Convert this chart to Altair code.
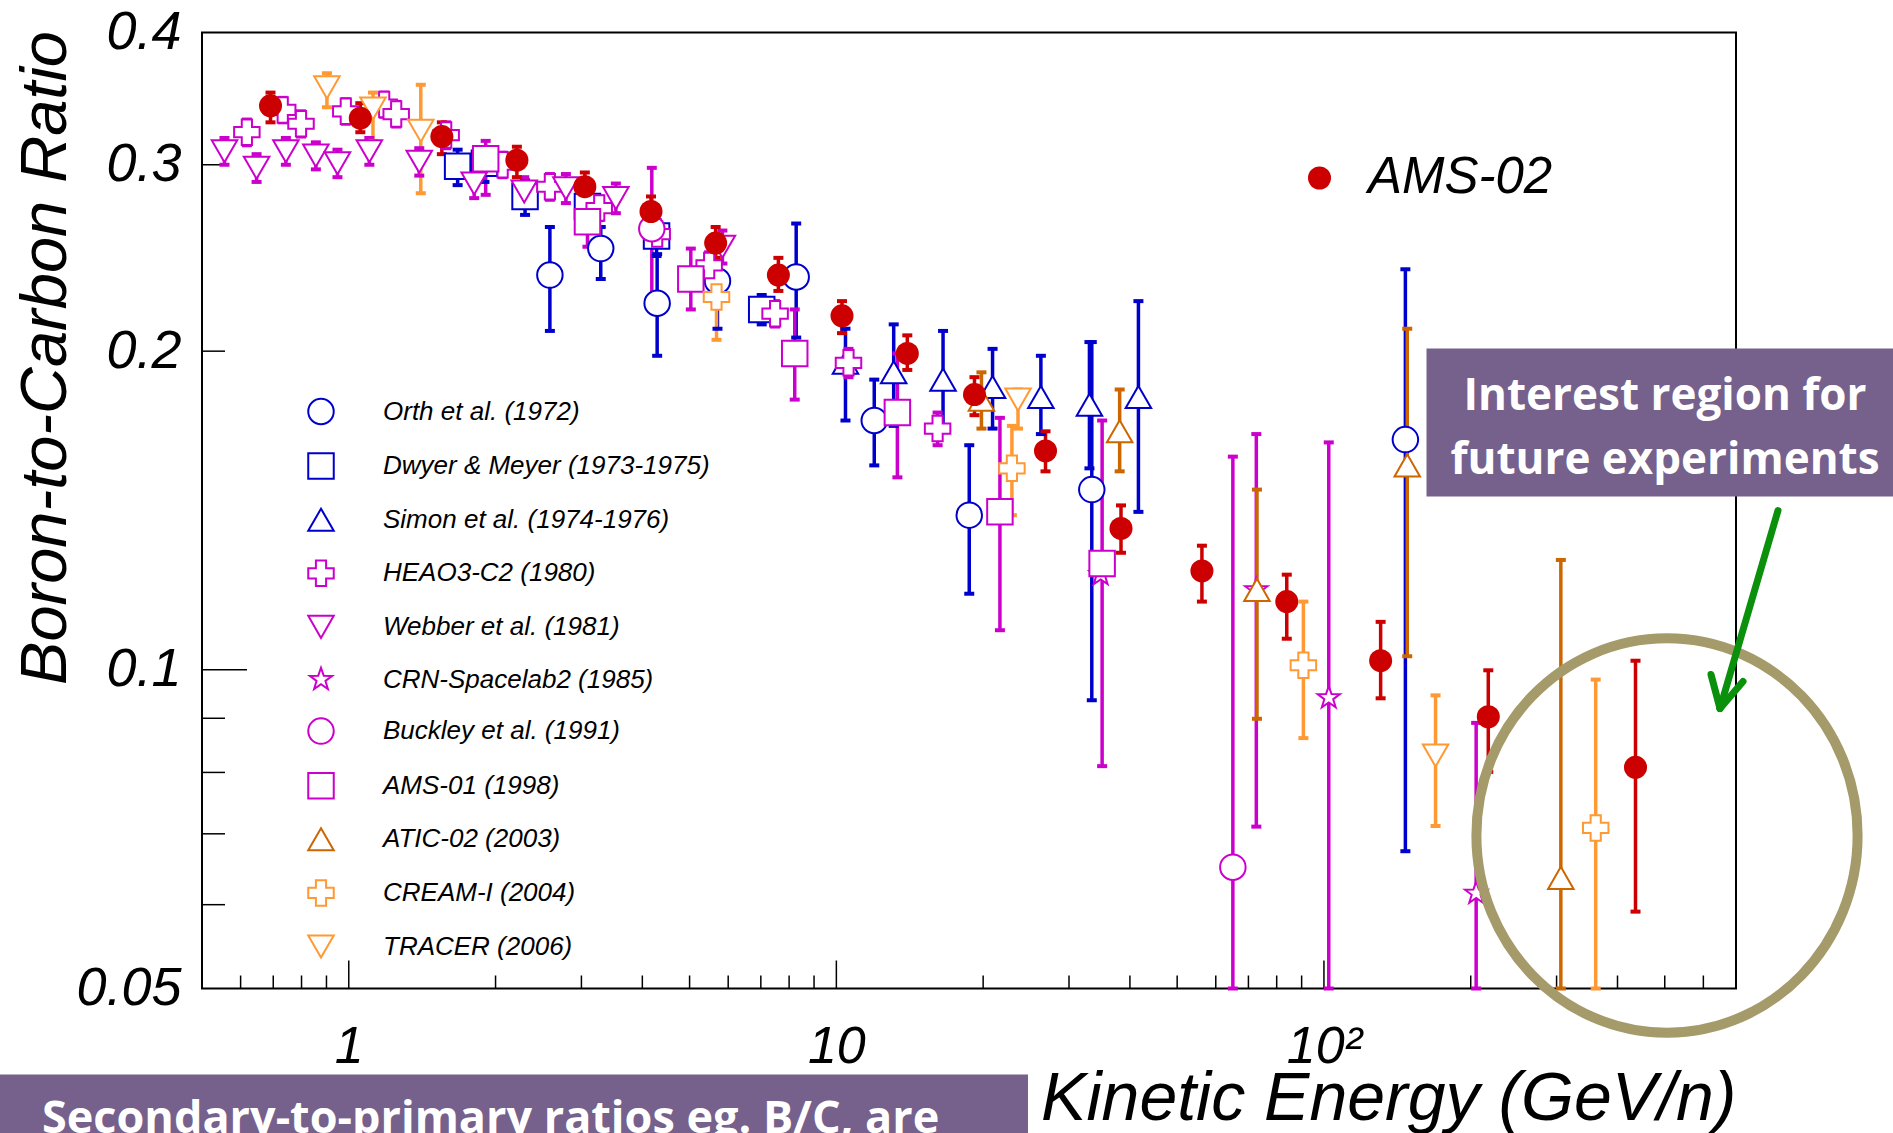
import altair as alt
import pandas as pd

W, H = 1534, 956
FONT = "Liberation Sans"

series_names = ["Orth et al. (1972)", "Dwyer & Meyer (1973-1975)", "Simon et al. (1974-1976)",
                "HEAO3-C2 (1980)", "Webber et al. (1981)", "CRN-Spacelab2 (1985)",
                "Buckley et al. (1991)", "AMS-01 (1998)", "ATIC-02 (2003)", "CREAM-I (2004)",
                "TRACER (2006)"]
series_colors = ["#0000cc", "#0000cc", "#0000cc", "#cc00cc", "#cc00cc", "#cc00cc",
                 "#cc00cc", "#cc00cc", "#cc6600", "#ff9933", "#ff9933"]
STAR = ("M0,-0.92 L0.216,-0.298 L0.875,-0.284 L0.35,0.114 L0.541,0.744 L0,0.368 "
        "L-0.541,0.744 L-0.35,0.114 L-0.875,-0.284 L-0.216,-0.298 Z")
series_shapes = ["circle", "square", "triangle-up", "cross", "triangle-down", STAR,
                 "circle", "square", "triangle-up", "cross", "triangle-down"]

# ---- data (kinetic energy GeV/n, B/C ratio, error-bar low, error-bar high) ----
orth_E = [2.585, 3.287, 4.290, 5.704, 8.272, 11.96, 18.73, 33.41, 146.9]
orth_R = [0.236, 0.250, 0.222, 0.233, 0.235, 0.172, 0.140, 0.148, 0.165]
orth_lo = [0.209, 0.234, 0.198, 0.210, 0.206, 0.156, 0.118, 0.0936, 0.0674]
orth_hi = [0.262, 0.262, 0.247, 0.244, 0.264, 0.188, 0.163, 0.204, 0.239]

dwyer_E = [1.672, 1.898, 2.299, 3.087, 4.278, 7.029]
dwyer_R = [0.299, 0.301, 0.280, 0.274, 0.257, 0.219]
dwyer_lo = [0.287, 0.289, 0.269, 0.267, 0.246, 0.212]
dwyer_hi = [0.310, 0.310, 0.290, 0.282, 0.266, 0.226]

simon_E = [10.44, 13.11, 16.55, 20.91, 26.27, 33.04, 41.64]
simon_R = [0.195, 0.191, 0.188, 0.185, 0.181, 0.178, 0.181]
simon_lo = [0.172, 0.170, 0.169, 0.169, 0.167, 0.155, 0.141]
simon_hi = [0.210, 0.212, 0.209, 0.201, 0.198, 0.204, 0.223]

heao_E = [0.618, 0.732, 0.798, 0.986, 1.182, 1.251, 1.584, 2.068, 2.585, 3.263, 4.290, 5.484, 7.488, 10.59, 16.13]
heao_R = [0.322, 0.338, 0.328, 0.337, 0.342, 0.335, 0.320, 0.300, 0.286, 0.273, 0.258, 0.241, 0.217, 0.195, 0.169]
heao_lo = [0.313, 0.329, 0.319, 0.328, 0.333, 0.326, 0.311, 0.292, 0.278, 0.266, 0.251, 0.234, 0.211, 0.189, 0.163]
heao_hi = [0.331, 0.347, 0.337, 0.346, 0.351, 0.344, 0.329, 0.308, 0.294, 0.280, 0.265, 0.248, 0.223, 0.201, 0.175]

webber_E = [0.556, 0.647, 0.743, 0.856, 0.948, 1.102, 1.395, 1.808, 2.290, 2.788, 3.530, 5.838]
webber_R = [0.309, 0.298, 0.309, 0.306, 0.301, 0.309, 0.302, 0.288, 0.283, 0.285, 0.279, 0.251]
webber_lo = [0.300, 0.289, 0.300, 0.297, 0.292, 0.300, 0.293, 0.279, 0.274, 0.276, 0.270, 0.242]
webber_hi = [0.318, 0.307, 0.318, 0.315, 0.310, 0.318, 0.311, 0.297, 0.292, 0.294, 0.288, 0.260]

crn_E = [34.84, 72.66, 102.3, 205.2]
crn_R = [0.123, 0.119, 0.0941, 0.0615]
crn_lo = [0.123, 0.0711, 0.05, 0.05]
crn_hi = [0.123, 0.167, 0.164, 0.0891]

buckley_E = [4.183, 65.04]
buckley_R = [0.261, 0.0651]
buckley_lo = [0.225, 0.05]
buckley_hi = [0.298, 0.159]

ams01_E = [1.909, 3.087, 5.029, 8.215, 13.34, 21.65, 35.08]
ams01_R = [0.304, 0.265, 0.234, 0.199, 0.175, 0.141, 0.126]
ams01_lo = [0.281, 0.251, 0.219, 0.180, 0.152, 0.109, 0.0811]
ams01_hi = [0.316, 0.277, 0.250, 0.219, 0.199, 0.173, 0.172]

atic_E = [19.84, 38.11, 72.88, 148.2, 306.1]
atic_R = [0.180, 0.168, 0.119, 0.156, 0.0636]
atic_lo = [0.169, 0.154, 0.0899, 0.103, 0.05]
atic_hi = [0.191, 0.184, 0.148, 0.210, 0.127]

cream_E = [5.678, 22.91, 90.75, 360.9]
cream_R = [0.225, 0.155, 0.101, 0.0709]
cream_lo = [0.205, 0.140, 0.0862, 0.05]
cream_hi = [0.245, 0.170, 0.116, 0.0979]

tracer_E = [0.902, 1.121, 1.405, 23.58, 169.4]
tracer_R = [0.355, 0.339, 0.323, 0.180, 0.0830]
tracer_lo = [0.340, 0.316, 0.282, 0.169, 0.0712]
tracer_hi = [0.366, 0.351, 0.357, 0.184, 0.0946]

ams02_E = [0.691, 1.056, 1.552, 2.212, 3.049, 4.167, 5.655, 7.605, 10.27, 13.98, 19.20, 26.85,
           38.35, 56.2, 83.9, 130.7, 217.3, 435.5]
ams02_R = [0.341, 0.332, 0.319, 0.303, 0.286, 0.271, 0.253, 0.236, 0.216, 0.199, 0.182, 0.161,
           0.136, 0.124, 0.116, 0.102, 0.0903, 0.0809]
ams02_lo = [0.329, 0.322, 0.307, 0.292, 0.276, 0.262, 0.245, 0.228, 0.208, 0.192, 0.174, 0.154,
            0.129, 0.116, 0.107, 0.094, 0.0801, 0.0591]
ams02_hi = [0.351, 0.343, 0.329, 0.312, 0.295, 0.280, 0.262, 0.245, 0.223, 0.207, 0.189, 0.168,
            0.143, 0.131, 0.123, 0.111, 0.0999, 0.102]

x_minor_ticks = [0.6, 0.7, 0.8, 0.9, 2, 3, 4, 5, 6, 7, 8, 9, 20, 30, 40, 50, 60, 70, 80, 90,
                 200, 300, 400, 500, 600]
x_major_ticks = [1, 10, 100]
y_minor_ticks = [0.06, 0.07, 0.08, 0.09, 0.2, 0.3]
y_major_ticks = [0.1]
x_label_values = [1, 10, 100]
y_label_values = [0.05, 0.1, 0.2, 0.3, 0.4]

series_data = [
    (series_names[0], orth_E, orth_R, orth_lo, orth_hi),
    (series_names[1], dwyer_E, dwyer_R, dwyer_lo, dwyer_hi),
    (series_names[2], simon_E, simon_R, simon_lo, simon_hi),
    (series_names[3], heao_E, heao_R, heao_lo, heao_hi),
    (series_names[4], webber_E, webber_R, webber_lo, webber_hi),
    (series_names[5], crn_E, crn_R, crn_lo, crn_hi),
    (series_names[6], buckley_E, buckley_R, buckley_lo, buckley_hi),
    (series_names[7], ams01_E, ams01_R, ams01_lo, ams01_hi),
    (series_names[8], atic_E, atic_R, atic_lo, atic_hi),
    (series_names[9], cream_E, cream_R, cream_lo, cream_hi),
    (series_names[10], tracer_E, tracer_R, tracer_lo, tracer_hi),
]
rows = []
for name, E, R, lo, hi in series_data:
    for e, r, l, h in zip(E, R, lo, hi):
        rows.append({"series": name, "E": e, "R": r, "lo": l, "hi": h})
df = pd.DataFrame(rows)
ams = pd.DataFrame({"exp": "AMS-02", "series": "AMS-02", "E": ams02_E, "R": ams02_R,
                    "lo": ams02_lo, "hi": ams02_hi})
err_df = pd.concat([df, ams[["series", "E", "R", "lo", "hi"]]], ignore_index=True)

# ---- scales & axes ----
xscale = alt.Scale(type="log", domain=[0.5, 700], nice=False)
yscale = alt.Scale(type="log", domain=[0.05, 0.4], nice=False)

x_axis = alt.Axis(values=x_label_values, ticks=False, domain=False, grid=False,
                  labelExpr="datum.value >= 100 ? '10\u00b2' : format(datum.value, 'd')",
                  labelFont=FONT, labelFontSize=52, labelFontStyle="italic", labelColor="black",
                  labelPadding=33, labelFlush=False, labelOverlap=False,
                  title="Kinetic Energy (GeV/n)", titleFont=FONT, titleFontSize=68,
                  titleFontStyle="italic", titleFontWeight="normal", titleColor="black",
                  titleX=W, titleY=131, titleAlign="right", titleBaseline="alphabetic")
y_axis = alt.Axis(values=y_label_values, ticks=False, domain=False, grid=False, format="~g",
                  labelFont=FONT, labelFontSize=54, labelFontStyle="italic", labelColor="black",
                  labelPadding=21, labelFlush=False, labelOverlap=False,
                  title="Boron-to-Carbon Ratio", titleFont=FONT, titleFontSize=65,
                  titleFontStyle="italic", titleFontWeight="normal", titleColor="black",
                  titleX=-137, titleY=-2, titleAlign="right", titleBaseline="alphabetic",
                  titleAngle=270)


def X(field):
    return alt.X(field, type="quantitative", scale=xscale, axis=x_axis)


def Y(field):
    return alt.Y(field, type="quantitative", scale=yscale, axis=y_axis)


color_scale = alt.Scale(domain=series_names + ["AMS-02"], range=series_colors + ["#cc0000"])

# ---- inward ticks ----
xt_minor = alt.Chart(pd.DataFrame({"v": x_minor_ticks})).mark_rule(color="black", strokeWidth=1.5).encode(
    x=X("v"), y=alt.value(H), y2=alt.value(H - 13))
xt_major = alt.Chart(pd.DataFrame({"v": x_major_ticks})).mark_rule(color="black", strokeWidth=1.5).encode(
    x=X("v"), y=alt.value(H), y2=alt.value(H - 28))
yt_minor = alt.Chart(pd.DataFrame({"v": y_minor_ticks})).mark_rule(color="black", strokeWidth=1.5).encode(
    y=Y("v"), x=alt.value(0), x2=alt.value(23))
yt_major = alt.Chart(pd.DataFrame({"v": y_major_ticks})).mark_rule(color="black", strokeWidth=1.5).encode(
    y=Y("v"), x=alt.value(0), x2=alt.value(45))

# ---- error bars ----
rules = alt.Chart(err_df).mark_rule(strokeWidth=3.5).encode(
    x=X("E"), y=Y("lo"), y2="hi:Q",
    color=alt.Color("series:N", scale=color_scale, legend=None))
caps = alt.Chart(err_df).transform_fold(["lo", "hi"], as_=["end", "val"]).mark_tick(
    orient="horizontal", size=10, thickness=4, opacity=1).encode(
    x=X("E"), y=Y("val"),
    color=alt.Color("series:N", scale=color_scale, legend=None))

# ---- markers ----
leg = alt.Legend(title=None, orient="none", legendX=105, legendY=365, symbolSize=650,
                 symbolStrokeWidth=2, symbolFillColor="white", labelFont=FONT, labelFontSize=26,
                 labelFontStyle="italic", labelColor="black", labelOffset=48, rowPadding=20.6,
                 padding=0, labelLimit=0)
markers = alt.Chart(df).mark_point(filled=False, fill="white", strokeWidth=2, size=650, opacity=1).encode(
    x=X("E"), y=Y("R"),
    stroke=alt.Stroke("series:N", scale=alt.Scale(domain=series_names, range=series_colors), legend=leg),
    shape=alt.Shape("series:N", scale=alt.Scale(domain=series_names, range=series_shapes), legend=leg))

ams_leg = alt.Legend(title=None, orient="none", legendX=1092, legendY=120, symbolSize=530,
                     symbolType="circle", labelFont=FONT, labelFontSize=51, labelFontStyle="italic",
                     labelColor="black", labelOffset=23, padding=0, labelLimit=0)
ams_pts = alt.Chart(ams).mark_point(filled=True, size=530, opacity=1, shape="circle", strokeWidth=0).encode(
    x=X("E"), y=Y("R"),
    fill=alt.Fill("exp:N", scale=alt.Scale(domain=["AMS-02"], range=["#cc0000"]), legend=ams_leg))

# ---- annotations ----
one = pd.DataFrame({"a": [0]})
ELLIPSE = "M-0.9665,0 A0.9665,1 0 1,0 0.9665,0 A0.9665,1 0 1,0 -0.9665,0 Z"
ellipse = alt.Chart(one).mark_point(shape=ELLIPSE, size=155551, filled=False, stroke="#a59a6a",
                                    strokeWidth=10, opacity=1).encode(
    x=alt.value(1465), y=alt.value(803))

GREEN = "#0a900a"
arrow_shaft = alt.Chart(one).mark_rule(stroke=GREEN, strokeWidth=7, strokeCap="round").encode(
    x=alt.value(1576), y=alt.value(478), x2=alt.value(1518), y2=alt.value(676))
arrow_a = alt.Chart(one).mark_rule(stroke=GREEN, strokeWidth=7, strokeCap="round").encode(
    x=alt.value(1518), y=alt.value(676), x2=alt.value(1509), y2=alt.value(642))
arrow_b = alt.Chart(one).mark_rule(stroke=GREEN, strokeWidth=7, strokeCap="round").encode(
    x=alt.value(1518), y=alt.value(676), x2=alt.value(1541), y2=alt.value(649))

PURPLE = "#76608c"
box1 = alt.Chart(one).mark_rect(color=PURPLE, opacity=1).encode(
    x=alt.value(1224.5), x2=alt.value(1691), y=alt.value(316), y2=alt.value(464))
t1 = alt.Chart(one).mark_text(font="Open Sans", fontWeight="bold", fontSize=44, color="white",
                              align="center", baseline="alphabetic").encode(
    x=alt.value(1463), y=alt.value(377.5), text=alt.value("Interest region for"))
t2 = alt.Chart(one).mark_text(font="Open Sans", fontWeight="bold", fontSize=44, color="white",
                              align="center", baseline="alphabetic").encode(
    x=alt.value(1463), y=alt.value(441), text=alt.value("future experiments"))
box2 = alt.Chart(one).mark_rect(color=PURPLE, opacity=1).encode(
    x=alt.value(-202), x2=alt.value(826), y=alt.value(1042), y2=alt.value(1101))
t3 = alt.Chart(one).mark_text(font="Open Sans", fontWeight="bold", fontSize=45, color="white",
                              align="left", baseline="alphabetic").encode(
    x=alt.value(-160), y=alt.value(1100.5), text=alt.value("Secondary-to-primary ratios eg. B/C, are"))

chart = alt.layer(
    xt_minor, xt_major, yt_minor, yt_major, rules, caps, markers, ams_pts,
    ellipse, arrow_shaft, arrow_a, arrow_b, box1, t1, t2, box2, t3
).properties(
    width=W, height=H,
    autosize=alt.AutoSizeParams(type="none"),
    padding={"left": 202, "top": 32.5, "right": 157, "bottom": 144.5},
    background="white",
).configure_view(stroke="black", strokeWidth=2)

chart.save("out.html", embed_options={"renderer": "svg", "actions": False})
